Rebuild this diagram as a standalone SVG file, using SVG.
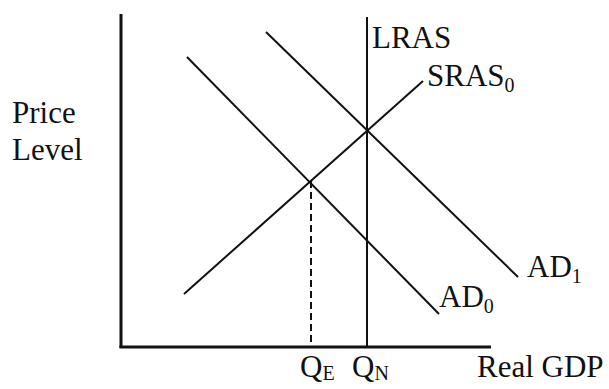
<svg xmlns="http://www.w3.org/2000/svg" width="609" height="389" viewBox="0 0 609 389">
<style>
text{font-family:'Liberation Serif','Times New Roman','DejaVu Serif',serif;font-size:31px;fill:#111}
.s{font-size:20px}
.ax{stroke:#111;stroke-width:3;fill:none}
.ln{stroke:#111;stroke-width:2;fill:none}
</style>
<rect width="609" height="389" fill="#fff"/>
<g id="axes">
<line class="ax" x1="121" y1="14" x2="121" y2="348"/>
<line class="ax" x1="119.5" y1="347" x2="491" y2="347"/>
</g>
<g id="connectors">
<line class="ln" id="lras" x1="367" y1="17" x2="367" y2="347" stroke-width="3"/>
<line class="ln" id="ad1" x1="266" y1="32" x2="518" y2="277"/>
<line class="ln" id="ad0" x1="187" y1="57" x2="439" y2="314"/>
<line class="ln" id="sras0" x1="184" y1="294" x2="423" y2="81"/>
<line class="ln" id="qe" x1="311" y1="181" x2="311" y2="347" stroke-dasharray="7,4"/>
</g>
<g id="labels">
<text x="12" y="123">Price</text>
<text x="12" y="160">Level</text>
<text x="372" y="48">LRAS</text>
<text x="427" y="86">SRAS<tspan class="s" dy="6">0</tspan></text>
<text x="527" y="277">AD<tspan class="s" dy="6">1</tspan></text>
<text x="439" y="307">AD<tspan class="s" dy="6">0</tspan></text>
<text x="300" y="377">Q<tspan class="s" dy="3">E</tspan></text>
<text x="352" y="377">Q<tspan class="s" dy="3">N</tspan></text>
<text x="477" y="377">Real GDP</text>
</g>
</svg>
